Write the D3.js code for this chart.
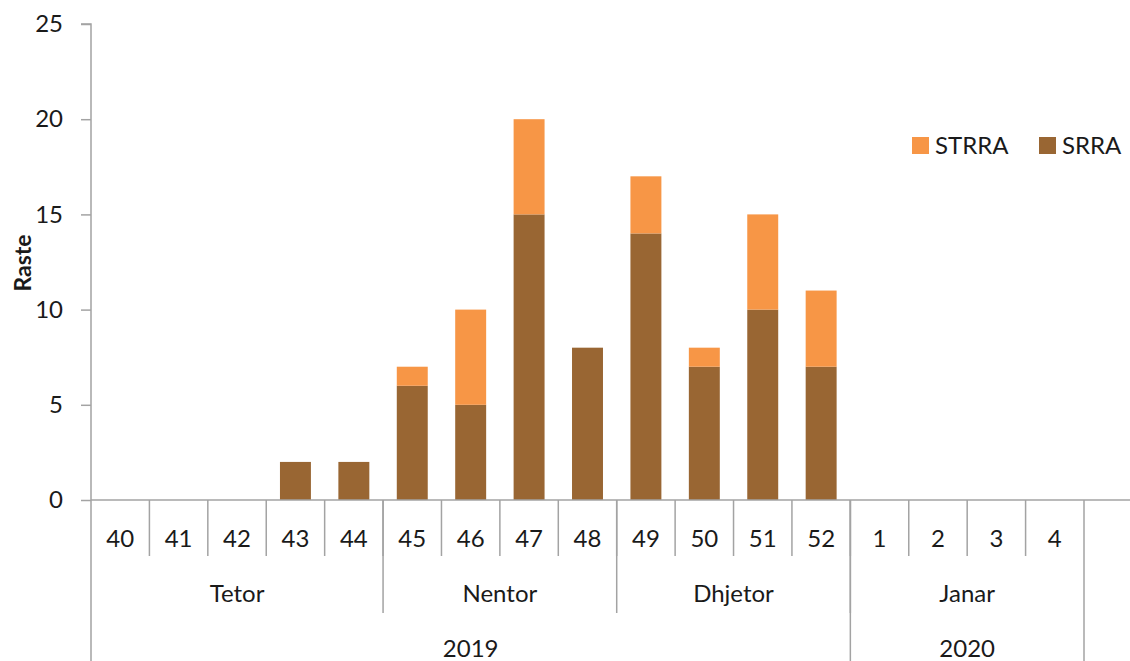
<!DOCTYPE html>
<html>
<head>
<meta charset="utf-8">
<script src="https://cdn.jsdelivr.net/npm/d3@7"></script>
<style>
  html, body { margin: 0; padding: 0; background: #fff; }
  svg text { font-family: Lato, "Open Sans", sans-serif; fill: #1a1a1a; }
</style>
</head>
<body>
<svg id="chart" width="1130" height="661"></svg>
<script>
// ---- data ----
const weeks = ["40","41","42","43","44","45","46","47","48","49","50","51","52","1","2","3","4"];
const srra  = [0, 0, 0, 2, 2, 6, 5, 15, 8, 14, 7, 10, 7, 0, 0, 0, 0];
const strra = [0, 0, 0, 0, 0, 1, 5, 5, 0, 3, 1, 5, 4, 0, 0, 0, 0];
const monthLabels = ["Tetor", "Nentor", "Dhjetor", "Janar"];
const monthSpans  = [5, 4, 4, 4];
const yearLabels  = ["2019", "2020"];
const yearSpans   = [13, 4];
const yTicks = [0, 5, 10, 15, 20, 25];
const seriesNames = ["STRRA", "SRRA"];
const seriesColors = { SRRA: "#996633", STRRA: "#F79646" };
const yTitle = "Raste";

// ---- layout ----
const svg = d3.select("#chart");
const pLeft = 91, pRight = 1084, pTop = 24, pBottom = 500;
const axisColor = "#a3a3a3";

const x = d3.scaleBand().domain(weeks).range([pLeft, pRight])
  .paddingInner(0.47).paddingOuter(0.235);
const y = d3.scaleLinear().domain([0, 25]).range([pBottom, pTop]);

const table = weeks.map((w, i) => ({ week: w, SRRA: srra[i], STRRA: strra[i] }));
const stack = d3.stack().keys(["SRRA", "STRRA"])(table);

// bars
svg.append("g").selectAll("g").data(stack).join("g")
  .attr("fill", d => seriesColors[d.key])
  .selectAll("rect").data(d => d.filter(p => p[1] - p[0] > 0)).join("rect")
  .attr("x", d => x(d.data.week))
  .attr("width", x.bandwidth())
  .attr("y", d => y(d[1]))
  .attr("height", d => y(d[0]) - y(d[1]));

// y axis
const yAxis = svg.append("g").attr("transform", `translate(${pLeft},0)`)
  .call(d3.axisLeft(y).tickValues(yTicks).tickSize(10).tickPadding(18));
yAxis.select(".domain").attr("stroke", axisColor).attr("stroke-width", 1.5)
  .attr("d", `M-10,${pTop}H0V661`);
yAxis.selectAll(".tick line").attr("stroke", axisColor).attr("stroke-width", 1.5);
yAxis.selectAll(".tick text").style("font-size", "24px").attr("fill", "#1a1a1a");

// y title
svg.append("text")
  .attr("transform", `translate(31,263) rotate(-90)`)
  .attr("text-anchor", "middle")
  .style("font-size", "23px").style("font-weight", "bold")
  .text(yTitle);

// x axis line
svg.append("line").attr("x1", pLeft).attr("x2", 1130).attr("y1", pBottom).attr("y2", pBottom)
  .attr("stroke", axisColor).attr("stroke-width", 1.5);

const step = x.step();
const edge = i => pLeft + i * step;

// week labels & dividers
const g = svg.append("g");
weeks.forEach((w, i) => {
  g.append("text").attr("x", x(w) + x.bandwidth() / 2).attr("y", 547)
    .attr("text-anchor", "middle").style("font-size", "24px").text(w);
});
for (let i = 1; i < weeks.length; i++) {
  g.append("line").attr("x1", edge(i)).attr("x2", edge(i)).attr("y1", pBottom).attr("y2", 556)
    .attr("stroke", axisColor).attr("stroke-width", 1.5);
}
// month labels & dividers
let acc = 0;
monthLabels.forEach((m, i) => {
  const s = edge(acc), e = edge(acc + monthSpans[i]);
  g.append("text").attr("x", (s + e) / 2).attr("y", 602)
    .attr("text-anchor", "middle").style("font-size", "24px").text(m);
  acc += monthSpans[i];
  if (acc < weeks.length) {
    g.append("line").attr("x1", e).attr("x2", e).attr("y1", pBottom).attr("y2", 613)
      .attr("stroke", axisColor).attr("stroke-width", 1.5);
  }
});
// year labels & dividers
acc = 0;
yearLabels.forEach((yl, i) => {
  const s = edge(acc), e = edge(acc + yearSpans[i]);
  g.append("text").attr("x", (s + e) / 2).attr("y", 657)
    .attr("text-anchor", "middle").style("font-size", "24px").text(yl);
  acc += yearSpans[i];
  g.append("line").attr("x1", e).attr("x2", e).attr("y1", pBottom).attr("y2", 661)
    .attr("stroke", axisColor).attr("stroke-width", 1.5);
});

// legend
const legendPos = [912, 1039];
seriesNames.forEach((n, i) => {
  const lg = svg.append("g").attr("transform", `translate(${legendPos[i]},137)`);
  lg.append("rect").attr("width", 17).attr("height", 17).attr("fill", seriesColors[n]);
  lg.append("text").attr("x", 23).attr("y", 17).style("font-size", "24px").text(n);
});
</script>
</body>
</html>
